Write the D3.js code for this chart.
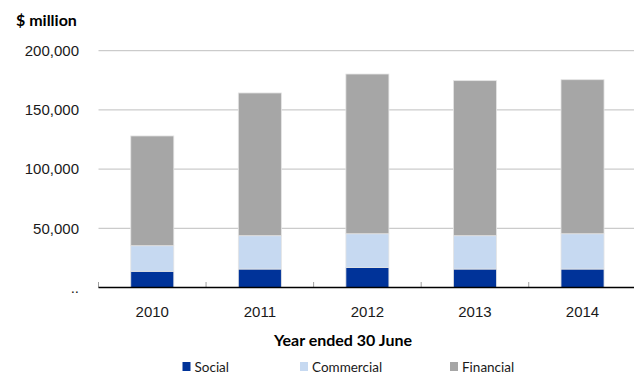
<!DOCTYPE html>
<html>
<head>
<meta charset="utf-8">
<script src="https://cdn.jsdelivr.net/npm/d3@7"></script>
<style>
  html, body { margin: 0; padding: 0; background: #fff; }
  svg { display: block; font-family: Lato, "Open Sans", sans-serif; }
</style>
</head>
<body>
<svg id="chart" width="634" height="373"></svg>
<script>
// Funds by category, $ million, year ended 30 June
const years = ["2010", "2011", "2012", "2013", "2014"];
const social = [13700, 15600, 17000, 15600, 15600];
const commercial = [21600, 28150, 28400, 28150, 29800];
const financial = [92700, 120550, 134900, 130950, 130100];
const yTicks = [0, 50000, 100000, 150000, 200000];
const seriesNames = ["Social", "Commercial", "Financial"];
const seriesColors = ["#003399", "#C6D9F1", "#A6A6A6"];

(function draw() {
  const svg = d3.select("#chart");
  const plotLeft = 98.5, plotRight = 636.3, plotTop = 50.7, plotBottom = 287.5;

  const x = d3.scaleBand().domain(years).range([plotLeft, plotRight])
    .paddingInner(0.6).paddingOuter(0.3);
  const y = d3.scaleLinear().domain([0, 200000]).range([plotBottom, plotTop]);

  const rows = years.map((yr, i) => ({
    year: yr, Social: social[i], Commercial: commercial[i], Financial: financial[i]
  }));
  const stacked = d3.stack().keys(seriesNames)(rows);

  // gridlines
  svg.append("g").selectAll("line")
    .data(yTicks.filter(d => d > 0))
    .join("line")
    .attr("x1", plotLeft).attr("x2", 634)
    .attr("y1", d => y(d)).attr("y2", d => y(d))
    .attr("stroke", "#BFBFBF").attr("stroke-width", 1);

  // y axis labels
  const yAxis = d3.axisLeft(y).tickValues(yTicks).tickSize(0).tickPadding(0)
    .tickFormat(d => d === 0 ? ".." : d3.format(",")(d));
  const gy = svg.append("g").attr("transform", "translate(79,0)").call(yAxis);
  gy.select(".domain").remove();
  gy.selectAll("text").attr("font-size", 15).attr("fill", "#1a1a1a");

  // bars
  svg.append("g").selectAll("g")
    .data(stacked)
    .join("g")
    .attr("fill", (d, i) => seriesColors[i])
    .selectAll("rect")
    .data(d => d)
    .join("rect")
    .attr("x", d => x(d.data.year))
    .attr("width", x.bandwidth())
    .attr("y", d => y(d[1]))
    .attr("height", d => y(d[0]) - y(d[1]))
    .attr("stroke", "#E4E4E4").attr("stroke-width", 0.8);

  // category boundary ticks
  const bounds = years.map(d => x(d) - x.step() * 0.3);
  svg.append("g").selectAll("line")
    .data(bounds)
    .join("line")
    .attr("x1", d => d).attr("x2", d => d)
    .attr("y1", plotBottom - 5.5).attr("y2", plotBottom)
    .attr("stroke", "#A0A0A0").attr("stroke-width", 1);

  // baseline
  svg.append("line").attr("x1", plotLeft).attr("x2", 634)
    .attr("y1", plotBottom).attr("y2", plotBottom)
    .attr("stroke", "#000").attr("stroke-width", 1.5);

  // x axis labels
  const xAxis = d3.axisBottom(x).tickSize(0).tickPadding(0);
  const gx = svg.append("g").attr("transform", `translate(0,${plotBottom + 29})`).call(xAxis);
  gx.select(".domain").remove();
  gx.selectAll("text").attr("font-size", 15).attr("fill", "#1a1a1a").attr("dy", "0");

  // titles
  svg.append("text").attr("x", 16).attr("y", 26)
    .attr("font-size", 16).attr("font-weight", "bold").attr("fill", "#000")
    .text("$ million");
  svg.append("text").attr("x", 343).attr("y", 346).attr("text-anchor", "middle")
    .attr("font-size", 16).attr("font-weight", "bold").attr("fill", "#000")
    .text("Year ended 30 June");

  // legend
  const legendX = [182.5, 300, 450];
  const lg = svg.append("g").selectAll("g")
    .data(seriesNames)
    .join("g")
    .attr("transform", (d, i) => `translate(${legendX[i]},362)`);
  lg.append("rect").attr("width", 8).attr("height", 9)
    .attr("fill", (d, i) => seriesColors[i]);
  lg.append("text").attr("x", 12).attr("y", 9.5)
    .attr("font-size", 13.5).attr("fill", "#1a1a1a")
    .text(d => d);
})();
</script>
</body>
</html>
